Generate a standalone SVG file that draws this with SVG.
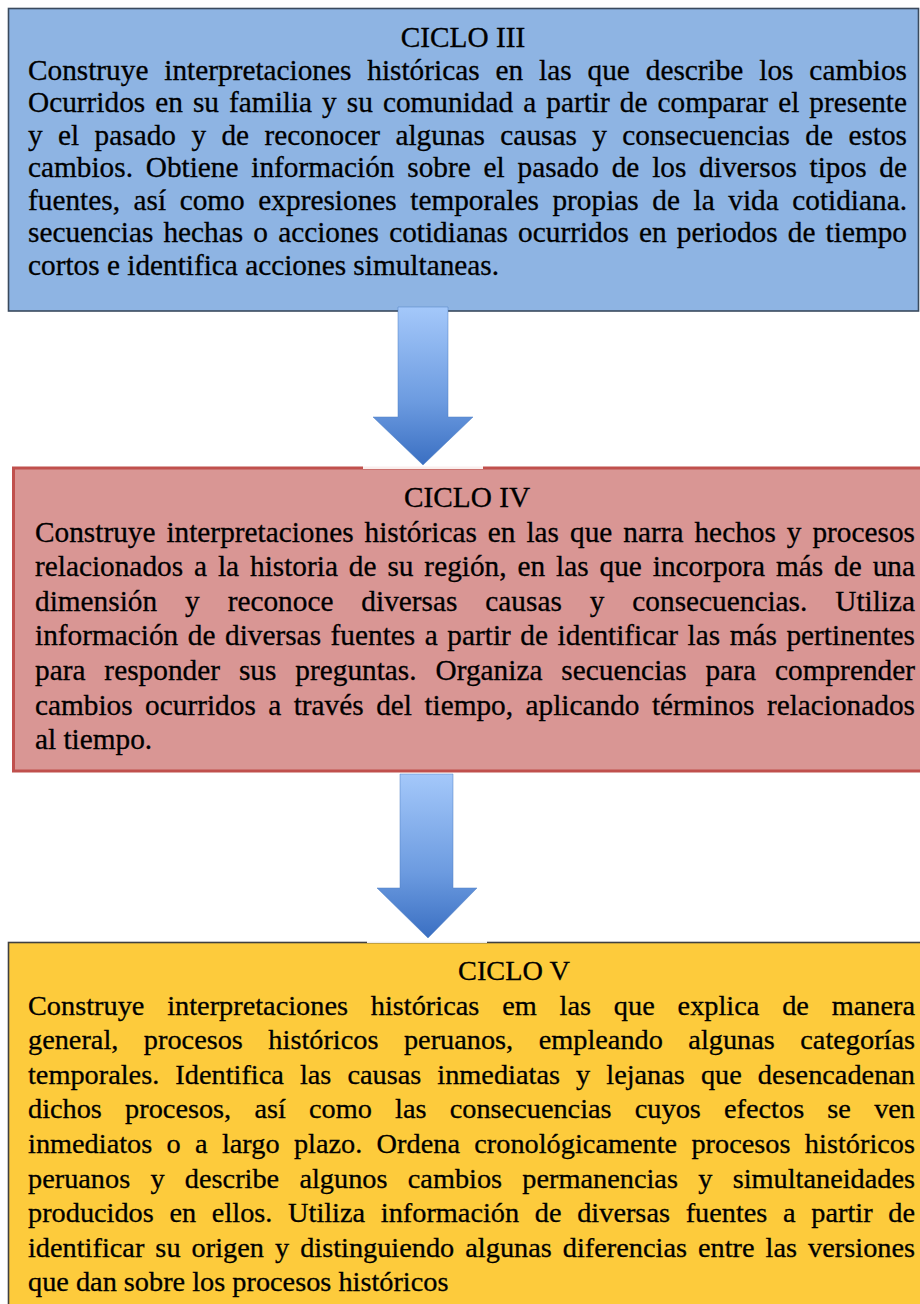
<svg xmlns="http://www.w3.org/2000/svg" width="920" height="1304" viewBox="0 0 920 1304">
<style>
.t{font-family:"Liberation Serif","Times New Roman",serif;font-size:29.3px;fill:#000;stroke:#000;stroke-width:0.3px}
.ty{font-family:"Liberation Serif","Times New Roman",serif;font-size:28.3px;fill:#000;stroke:#000;stroke-width:0.3px}
.c{text-anchor:middle}
</style>
<defs>
<linearGradient id="ag" x1="0" y1="0" x2="0" y2="1">
<stop offset="0" stop-color="#A4C8FA"/>
<stop offset="0.6" stop-color="#6C9BE0"/>
<stop offset="1" stop-color="#3A6FC2"/>
</linearGradient>
</defs>
<rect width="920" height="1304" fill="#fff"/>

<g id="ciclo3">
<rect x="8.5" y="8.5" width="910" height="302.5" fill="#8EB4E3" stroke="#3A4A5E" stroke-width="1.6"/>
<text class="t c" x="463" y="47">CICLO III</text>
<text class="t" x="28" y="79.5" textLength="879" style="word-spacing:8.6px">Construye interpretaciones históricas en las que describe los cambios</text>
<text class="t" x="28" y="112" textLength="879" style="word-spacing:2.73px">Ocurridos en su familia y su comunidad a partir de comparar el presente</text>
<text class="t" x="28" y="144.5" textLength="879" style="word-spacing:8.08px">y el pasado y de reconocer algunas causas y consecuencias de estos</text>
<text class="t" x="28" y="177" textLength="879" style="word-spacing:5.46px">cambios. Obtiene información sobre el pasado de los diversos tipos de</text>
<text class="t" x="28" y="209.5" textLength="879" style="word-spacing:6.25px">fuentes, así como expresiones temporales propias de la vida cotidiana.</text>
<text class="t" x="28" y="242" textLength="879" style="word-spacing:2.82px">secuencias hechas o acciones cotidianas ocurridos en periodos de tiempo</text>
<text class="t" x="28" y="274.5">cortos e identifica acciones simultaneas.</text>
</g>

<g id="ciclo4">
<rect x="13.5" y="468" width="920" height="303" fill="#D99694" stroke="#C0504D" stroke-width="3"/>
<text class="t c" x="467" y="507">CICLO IV</text>
<text class="t" x="35" y="541.6" textLength="880" style="word-spacing:3.66px">Construye interpretaciones históricas en las que narra hechos y procesos</text>
<text class="t" x="35" y="576.2" textLength="880" style="word-spacing:3.59px">relacionados a la historia de su región, en las que incorpora más de una</text>
<text class="t" x="35" y="610.8" textLength="880" style="word-spacing:20.6px">dimensión y reconoce diversas causas y consecuencias. Utiliza</text>
<text class="t" x="35" y="645.4" textLength="880" style="word-spacing:2.23px">información de diversas fuentes a partir de identificar las más pertinentes</text>
<text class="t" x="35" y="680" textLength="880" style="word-spacing:11.57px">para responder sus preguntas. Organiza secuencias para comprender</text>
<text class="t" x="35" y="714.6" textLength="880" style="word-spacing:5.12px">cambios ocurridos a través del tiempo, aplicando términos relacionados</text>
<text class="t" x="35" y="749.2">al tiempo.</text>
</g>

<g id="ciclo5">
<rect x="8.5" y="942.5" width="1000" height="420" fill="#FDCB3C" stroke="#404040" stroke-width="1.6"/>
<text class="ty c" x="514" y="980">CICLO V</text>
<text class="ty" x="28" y="1014.6" textLength="887" style="word-spacing:15.77px">Construye interpretaciones históricas em las que explica de manera</text>
<text class="ty" x="28" y="1049.2" textLength="887" style="word-spacing:18.43px">general, procesos históricos peruanos, empleando algunas categorías</text>
<text class="ty" x="28" y="1083.8" textLength="887" style="word-spacing:9px">temporales. Identifica las causas inmediatas y lejanas que desencadenan</text>
<text class="ty" x="28" y="1118.4" textLength="887" style="word-spacing:16.13px">dichos procesos, así como las consecuencias cuyos efectos se ven</text>
<text class="ty" x="28" y="1153" textLength="887" style="word-spacing:7.22px">inmediatos o a largo plazo. Ordena cronológicamente procesos históricos</text>
<text class="ty" x="28" y="1187.6" textLength="887" style="word-spacing:13.2px">peruanos y describe algunos cambios permanencias y simultaneidades</text>
<text class="ty" x="28" y="1222.2" textLength="887" style="word-spacing:8.6px">producidos en ellos. Utiliza información de diversas fuentes a partir de</text>
<text class="ty" x="28" y="1256.8" textLength="887" style="word-spacing:3.98px">identificar su origen y distinguiendo algunas diferencias entre las versiones</text>
<text class="ty" x="28" y="1291.4">que dan sobre los procesos históricos</text>
</g>

<g id="connectors">
<rect x="363" y="312" width="120" height="157" fill="#fff" opacity="0.9"/>
<path d="M398,307 H448 V417 H473 L423,465 L373,417 H398 Z" fill="url(#ag)" stroke="#4F7FC4" stroke-opacity="0.5" stroke-width="1"/>
<rect x="367" y="773" width="120" height="170" fill="#fff" opacity="0.9"/>
<path d="M400,774 H453 V888 H477 L428,938 L377,888 H400 Z" fill="url(#ag)" stroke="#4F7FC4" stroke-opacity="0.5" stroke-width="1"/>
</g>
</svg>
